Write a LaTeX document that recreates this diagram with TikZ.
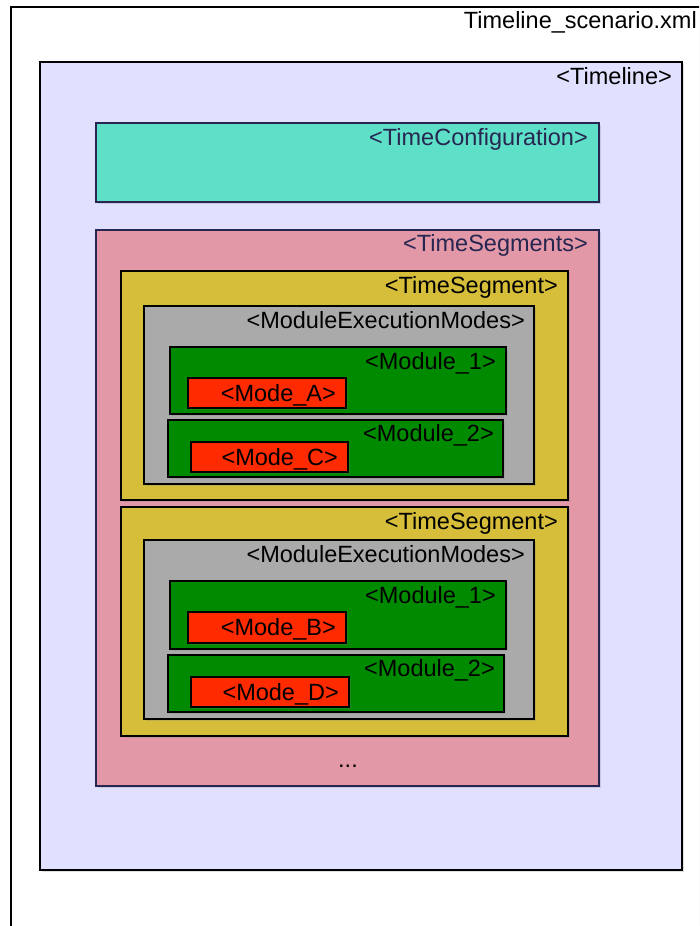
\documentclass[tikz,border=0pt]{standalone}
\usepackage{fontspec}
\setmainfont{Liberation Sans}
\usetikzlibrary{shadows}
\definecolor{tlfill}{HTML}{E0E0FF}
\definecolor{tcfill}{HTML}{5EE0C8}
\definecolor{tsegsfill}{HTML}{E398A8}
\definecolor{tsegfill}{HTML}{D6BE3A}
\definecolor{memfill}{HTML}{AAAAAA}
\definecolor{modfill}{HTML}{008A00}
\definecolor{modefill}{HTML}{FF2A00}
\definecolor{navy}{HTML}{262650}
\begin{document}
\begin{tikzpicture}[x=1pt,y=-1pt,
  box/.style={draw=black, line width=1.1pt, anchor=north west, inner sep=0pt, outer sep=0pt,
    drop shadow={opacity=0.25,shadow xshift=1.5pt,shadow yshift=-1.5pt}},
  lbl/.style={anchor=base east, inner sep=0pt, font=\fontsize{23.5}{28}\selectfont}]
\clip (0,0) rectangle (699,926);
\fill[white] (0,0) rectangle (699,926);
% outer file frame
\node[box, fill=white, minimum width=720pt, minimum height=940pt] (file) at (11,7) {};
\node[lbl] (filel) at ([xshift=-13pt,yshift=-21pt]file.north east -| 710,0) {Timeline\_scenario.xml};
% Timeline
\node[box, fill=tlfill, minimum width=642pt, minimum height=808pt] (tl) at (40,62) {};
\node[lbl] (tll) at ([xshift=-10pt,yshift=-22pt]tl.north east) {<Timeline>};
% TimeConfiguration
\node[box, draw=navy, fill=tcfill, minimum width=503pt, minimum height=79pt] (tc) at (96,123) {};
\node[lbl, text=navy] (tcl) at ([xshift=-11pt,yshift=-22pt]tc.north east) {<TimeConfiguration>};
% TimeSegments
\node[box, draw=navy, fill=tsegsfill, minimum width=503pt, minimum height=556pt] (tss) at (96,230) {};
\node[lbl, text=navy] (tssl) at ([xshift=-11pt,yshift=-21pt]tss.north east) {<TimeSegments>};
% TimeSegment 1
\node[box, fill=tsegfill, minimum width=447pt, minimum height=229pt] (ts1) at (121,271) {};
\node[lbl] (ts1l) at ([xshift=-10pt,yshift=-22pt]ts1.north east) {<TimeSegment>};
\node[box, fill=memfill, minimum width=390pt, minimum height=178pt] (mem1) at (144,306) {};
\node[lbl] (mem1l) at ([xshift=-9pt,yshift=-22pt]mem1.north east) {<ModuleExecutionModes>};
\node[box, fill=modfill, minimum width=336pt, minimum height=67pt] (m1a) at (170,347) {};
\node[lbl] (m1al) at ([xshift=-10pt,yshift=-22pt]m1a.north east) {<Module\_1>};
\node[box, fill=modefill, minimum width=158pt, minimum height=30pt] (modea) at (188,378) {};
\node[lbl] (modeal) at ([xshift=-10pt,yshift=-23pt]modea.north east) {<Mode\_A>};
\node[box, fill=modfill, minimum width=335pt, minimum height=57pt] (m2a) at (168,420) {};
\node[lbl] (m2al) at ([xshift=-9pt,yshift=-21pt]m2a.north east) {<Module\_2>};
\node[box, fill=modefill, minimum width=157pt, minimum height=30pt] (modec) at (191,442) {};
\node[lbl] (modecl) at ([xshift=-10pt,yshift=-23pt]modec.north east) {<Mode\_C>};
% TimeSegment 2
\node[box, fill=tsegfill, minimum width=447pt, minimum height=229pt] (ts2) at (121,507) {};
\node[lbl] (ts2l) at ([xshift=-10pt,yshift=-22pt]ts2.north east) {<TimeSegment>};
\node[box, fill=memfill, minimum width=390pt, minimum height=179pt] (mem2) at (144,540) {};
\node[lbl] (mem2l) at ([xshift=-9pt,yshift=-22pt]mem2.north east) {<ModuleExecutionModes>};
\node[box, fill=modfill, minimum width=336pt, minimum height=68pt] (m1b) at (170,581) {};
\node[lbl] (m1bl) at ([xshift=-10pt,yshift=-22pt]m1b.north east) {<Module\_1>};
\node[box, fill=modefill, minimum width=158pt, minimum height=31pt] (modeb) at (188,612) {};
\node[lbl] (modebl) at ([xshift=-10pt,yshift=-23pt]modeb.north east) {<Mode\_B>};
\node[box, fill=modfill, minimum width=336pt, minimum height=57pt] (m2b) at (168,655) {};
\node[lbl] (m2bl) at ([xshift=-9pt,yshift=-21pt]m2b.north east) {<Module\_2>};
\node[box, fill=modefill, minimum width=158pt, minimum height=30pt] (moded) at (191,677) {};
\node[lbl] (modedl) at ([xshift=-10pt,yshift=-23pt]moded.north east) {<Mode\_D>};
% ellipsis
\node[anchor=base, inner sep=0pt, font=\fontsize{23.5}{28}\selectfont] (dots) at (348,767) {...};
\end{tikzpicture}
\end{document}
